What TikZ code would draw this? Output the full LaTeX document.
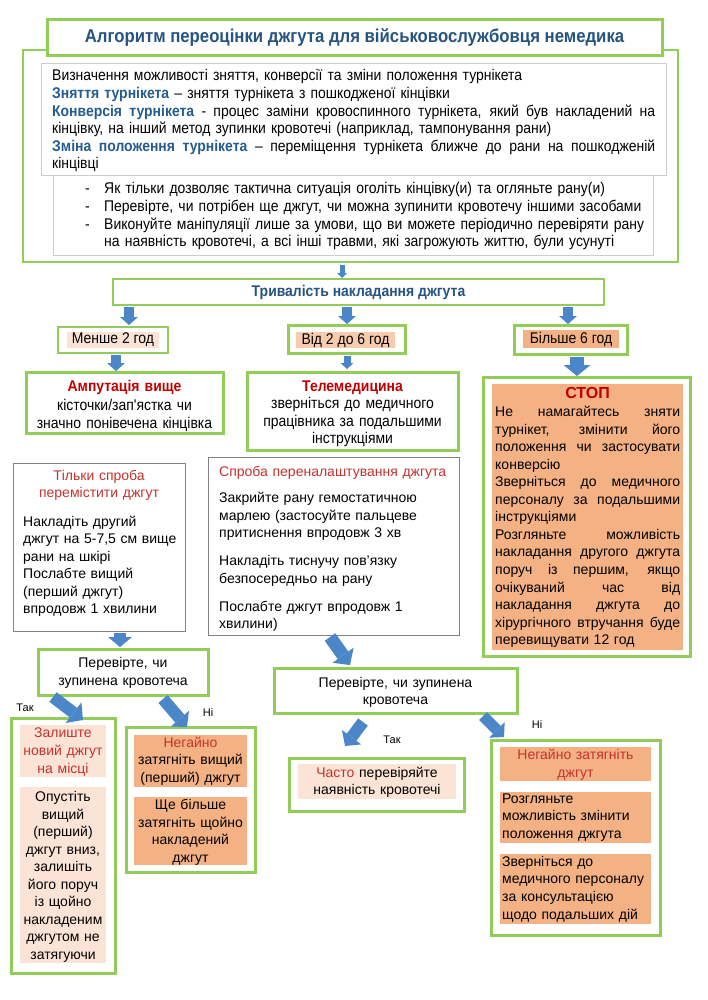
\documentclass[tikz,border=0pt]{standalone}
\usepackage{fontspec}
\setmainfont{Liberation Sans}
\newfontfamily\nar[FakeStretch=0.9]{Liberation Sans}
\usetikzlibrary{arrows.meta,fit}
\definecolor{grn}{RGB}{146,205,90}
\definecolor{abl}{RGB}{74,134,200}
\definecolor{tbl}{RGB}{38,84,128}
\definecolor{dbl}{RGB}{36,92,145}
\definecolor{dred}{RGB}{192,0,0}
\definecolor{sred}{RGB}{198,50,45}
\definecolor{salm}{RGB}{244,177,131}
\definecolor{lpk}{RGB}{251,228,214}
\definecolor{mpk}{RGB}{248,203,173}
\definecolor{gbd}{RGB}{130,130,130}
\definecolor{lgbd}{RGB}{205,205,205}
\newcommand\jl[2]{\leavevmode\hbox to #1{\spaceskip=0.278em plus 1fil\relax\xspaceskip=0.278em plus 1fil\relax #2}}
\newcommand\jlA[1]{\jl{603pt}{#1}}
\newcommand\jlB[1]{\jl{185pt}{#1}}
\newcommand\db[1]{\textbf{\color{dbl}#1}}
\begin{document}
\begin{tikzpicture}[x=1pt,y=-1pt,
 bx/.style={inner sep=0pt, outer sep=0pt, fit={#1}},
 gb/.style={draw=grn, line width=3pt},
 gbm/.style={draw=grn, line width=2pt},
 gyb/.style={draw=gbd, line width=0.8pt},
 fR/.style={font=\fontsize{14}{17.5}\selectfont},
 fN/.style={font=\nar\fontsize{15.5}{17.6}\selectfont},
 tc/.style={inner sep=0pt, text width=#1, align=center, anchor=base},
 tl/.style={inner sep=0pt, text width=#1, align=left, anchor=base west},
 ba/.style n args={3}{draw=abl, line width=#1, -{Triangle[width=#2,length=#3,line width=0pt]}},
 lab/.style={font=\fontsize{11}{13}\selectfont, inner sep=0pt, anchor=base},
]
\useasboundingbox (0,0) rectangle (707,1000);
\fill[white] (0,0) rectangle (707,1000);

% top block
\node[gbm, bx={(23,50) (678,262)}] (outer) {};
\node[gb, fill=white, bx={(47,20) (662,56)}] (title) {};
\node[inner sep=0pt, font=\nar\bfseries\fontsize{18.6}{21}\selectfont, text=tbl] (titlet) at (title.center) {Алгоритм переоцінки джгута для військовослужбовця немедика};
\node[draw=lgbd, line width=0.8pt, fill=white, bx={(41,63) (666,175)}] (defbox) {};
\node[draw=lgbd, line width=0.8pt, bx={(53,175) (653,255)}] (bulbox) {};
\node[tl=603pt, fN] (deftext) at (52,81) {Визначення можливості зняття, конверсії та зміни положення турнікета\\
\db{Зняття турнікета} – зняття турнікета з пошкодженої кінцівки\\
\jlA{\db{Конверсія турнікета} - процес заміни кровоспинного турнікета, який був накладений на}\\
кінцівку, на інший метод зупинки кровотечі (наприклад, тампонування рани)\\
\jlA{\db{Зміна положення турнікета} – переміщення турнікета ближче до рани на пошкодженій}\\
кінцівці};
\node[tl=570pt, fN] (bultext) at (85,194) {\makebox[19pt][l]{-}Як тільки дозволяє тактична ситуація оголіть кінцівку(и) та огляньте рану(и)\\
\makebox[19pt][l]{-}Перевірте, чи потрібен ще джгут, чи можна зупинити кровотечу іншими засобами\\
\makebox[19pt][l]{-}Виконуйте маніпуляції лише за умови, що ви можете періодично перевіряти рану\\
\hspace*{19pt}на наявність кровотечі, а всі інші травми, які загрожують життю, були усунуті};

% duration
\node[gbm, bx={(113,279) (604,305)}] (dur) {};
\node[inner sep=0pt, font=\nar\bfseries\fontsize{15.5}{18}\selectfont, text=tbl] (durt) at (dur.center) {Тривалість накладання джгута};

% level 3
\node[draw=grn, line width=1.5pt, bx={(58,327) (168,353)}] (m2) {};
\node[fill=lpk, bx={(67,332) (159,348)}] (m2h) {};
\node[inner sep=0pt, fN] (m2t) at (m2h.center) {Менше 2 год};
\node[gb, bx={(288,325) (405,353)}] (m26) {};
\node[fill=mpk, bx={(296,332) (395,348)}] (m26h) {};
\node[inner sep=0pt, fN] (m26t) at (m26h.center) {Від 2 до 6 год};
\node[gb, bx={(514,325) (627,354)}] (m6) {};
\node[fill=salm, bx={(523,330) (619,348)}] (m6h) {};
\node[inner sep=0pt, fN] (m6t) at (m6h.center) {Більше 6 год};

% level 4
\node[gb, bx={(26,372) (223,433)}] (amp) {};
\node[tc=200pt, font=\nar\fontsize{15.5}{18.5}\selectfont] (ampt) at (124.5,391.5) {{\bfseries\color{dred}Ампутація вище}\\кісточки/зап'ястка чи\\значно понівечена кінцівка};
\node[gb, bx={(247,372) (458,450)}] (tele) {};
\node[tc=210pt, font=\nar\fontsize{15.5}{17.4}\selectfont] (telet) at (352.5,391.5) {{\bfseries\color{dred}Телемедицина}\\зверніться до медичного\\працівника за подальшими\\інструкціями};
\node[gb, bx={(483,377) (690,656)}] (stop) {};
\node[fill=salm, bx={(492,384) (683,650)}] (stopbg) {};
\node[anchor=base, inner sep=0pt, font=\bfseries\fontsize{16}{18}\selectfont, text=dred] (stopt) at (587.5,398.5) {СТОП};
\node[tl=185pt, font=\fontsize{14}{17.55}\selectfont] (stopb) at (495,416.5) {\jlB{Не намагайтесь зняти}\\
\jlB{турнікет, змінити його}\\
\jlB{положення чи застосувати}\\
конверсію\\
\jlB{Зверніться до медичного}\\
\jlB{персоналу за подальшими}\\
інструкціями\\
\jlB{Розгляньте можливість}\\
\jlB{накладання другого джгута}\\
\jlB{поруч із першим, якщо}\\
\jlB{очікуваний час від}\\
\jlB{накладання джгута до}\\
\jlB{хірургічного втручання буде}\\
перевищувати 12 год};

% level 5
\node[gyb, bx={(13,463) (185,631)}] (spr1) {};
\node[tc=170pt, font=\fontsize{14}{17}\selectfont, text=sred] (spr1h) at (99,480.5) {Тільки спроба\\перемістити джгут};
\node[tl=160pt, fR] (spr1b) at (23,526) {Накладіть другий\\джгут на 5-7,5 см вище\\рани на шкірі\\Послабте вищий\\(перший джгут)\\впродовж 1 хвилини};
\node[gyb, bx={(208,457) (459,635)}] (spr2) {};
\node[tl=235pt, fR, text=sred] (spr2h) at (219,476.5) {Спроба переналаштування джгута};
\node[tl=235pt, fR] (spr2b) at (219,502.5) {Закрийте рану гемостатичною\\марлею (застосуйте пальцеве\\притиснення впродовж 3 хв\\[10.5pt]Накладіть тиснучу пов’язку\\безпосередньо на рану\\[10.5pt]Послабте джгут впродовж 1\\хвилини)};

% checks
\node[gb, bx={(38,649) (208,695)}] (chk1) {};
\node[tc=165pt, font=\fontsize{14}{18}\selectfont] (chk1t) at (123,667.5) {Перевірте, чи\\зупинена кровотеча};
\node[gb, bx={(274,668) (517,713)}] (chk2) {};
\node[tc=235pt, fR] (chk2t) at (395.5,687) {Перевірте, чи зупинена\\кровотеча};

% bottom boxes
\node[gb, bx={(11,718) (115,973)}] (zal) {};
\node[fill=lpk, bx={(20,725) (106,777)}] (zal1) {};
\node[tc=100pt, font=\fontsize{14}{18}\selectfont, text=sred] (zal1t) at (63,737.5) {Залиште\\новий джгут\\на місці};
\node[fill=lpk, bx={(20,787) (106,963)}] (zal2) {};
\node[tc=100pt, font=\fontsize{14}{17.55}\selectfont] (zal2t) at (63,801.5) {Опустіть\\вищий\\(перший)\\джгут вниз,\\залишіть\\його поруч\\із щойно\\накладеним\\джгутом не\\затягуючи};

\node[gb, bx={(126,727) (255,872)}] (neg) {};
\node[fill=salm, bx={(134,735) (247,787)}] (neg1) {};
\node[tc=120pt, fR] (neg1t) at (190.5,747) {{\color{sred}Негайно}\\затягніть вищий\\(перший) джгут};
\node[fill=salm, bx={(134,797) (247,865)}] (neg2) {};
\node[tc=120pt, font=\fontsize{14}{17.7}\selectfont] (neg2t) at (190.5,809.5) {Ще більше\\затягніть щойно\\накладений\\джгут};

\node[gb, bx={(289,758) (464,811)}] (chasto) {};
\node[fill=lpk, bx={(298,764) (456,799)}] (chasto1) {};
\node[tc=170pt, font=\fontsize{14}{17}\selectfont] (chastot) at (377,777) {{\color{sred}Часто} перевіряйте\\наявність кровотечі};

\node[gb, bx={(491,740) (660,935)}] (negz) {};
\node[fill=salm, bx={(500,747) (651,781)}] (negz1) {};
\node[tc=160pt, font=\fontsize{14}{18}\selectfont, text=sred] (negz1t) at (575.5,759) {Негайно затягніть\\джгут};
\node[fill=salm, bx={(500,792) (651,843)}] (negz2) {};
\node[tl=150pt, fR] (negz2t) at (502,803) {Розгляньте\\можливість змінити\\положення джгута};
\node[fill=salm, bx={(500,854) (651,924)}] (negz3) {};
\node[tl=150pt, font=\fontsize{14}{17.7}\selectfont] (negz3t) at (502,866) {Зверніться до\\медичного персоналу\\за консультацією\\щодо подальших дій};

% labels
\node[lab] (l1) at (25,711) {Так};
\node[lab] (l2) at (208,716) {Ні};
\node[lab] (l3) at (392,743) {Так};
\node[lab] (l4) at (537,728) {Ні};

% arrows
\draw[ba={5pt}{10pt}{5pt}] ([xshift=-8.5pt,yshift=-3pt]outer.south) -- ([xshift=-16.5pt,yshift=1pt]dur.north);
\draw[ba={10pt}{18pt}{8pt}] ([xshift=-229.5pt,yshift=-2pt]dur.south) -- ([xshift=16pt,yshift=2pt]m2.north);
\draw[ba={10pt}{18pt}{8pt}] ([xshift=-11.5pt,yshift=-2pt]dur.south) -- ([xshift=0.5pt,yshift=1pt]m26.north);
\draw[ba={10pt}{18pt}{8pt}] ([xshift=209.5pt,yshift=-2pt]dur.south) -- ([xshift=-2.5pt,yshift=1pt]m6.north);
\draw[ba={10pt}{18pt}{8pt}] ([xshift=3pt,yshift=-2pt]m2.south) -- ([xshift=-8.5pt,yshift=1pt]amp.north);
\draw[ba={7pt}{13pt}{6pt}] ([xshift=0.5pt,yshift=-3pt]m26.south) -- ([xshift=-5.5pt,yshift=3pt]tele.north);
\draw[ba={14pt}{27pt}{11pt}] ([xshift=6.5pt,yshift=-3pt]m6.south) -- ([xshift=-9.5pt,yshift=1pt]stop.north);
\draw[ba={12pt}{24pt}{10pt}] ([xshift=21pt,yshift=-2pt]spr1.south) -- ([xshift=-3pt,yshift=2pt]chk1.north);
\draw[ba={13pt}{26pt}{12pt}] ([xshift=-3.5pt,yshift=-2pt]spr2.south) -- ([xshift=-45.5pt,yshift=3pt]chk2.north);
\draw[ba={12pt}{26pt}{12pt}] ([xshift=-70pt,yshift=-2pt]chk1.south) -- ([xshift=20pt,yshift=-2pt]zal.north);
\draw[ba={12pt}{24pt}{11pt}] ([xshift=40pt,yshift=-4pt]chk1.south) -- ([xshift=-3.5pt,yshift=0pt]neg.north);
\draw[ba={12pt}{24pt}{11pt}] ([xshift=-32.5pt,yshift=-9pt]chk2.south) -- ([xshift=-31.5pt,yshift=12pt]chasto.north);
\draw[ba={11pt}{22pt}{10pt}] ([xshift=87.5pt,yshift=-3pt]chk2.south) -- ([xshift=-71.5pt,yshift=3pt]negz.north);
\end{tikzpicture}
\end{document}
